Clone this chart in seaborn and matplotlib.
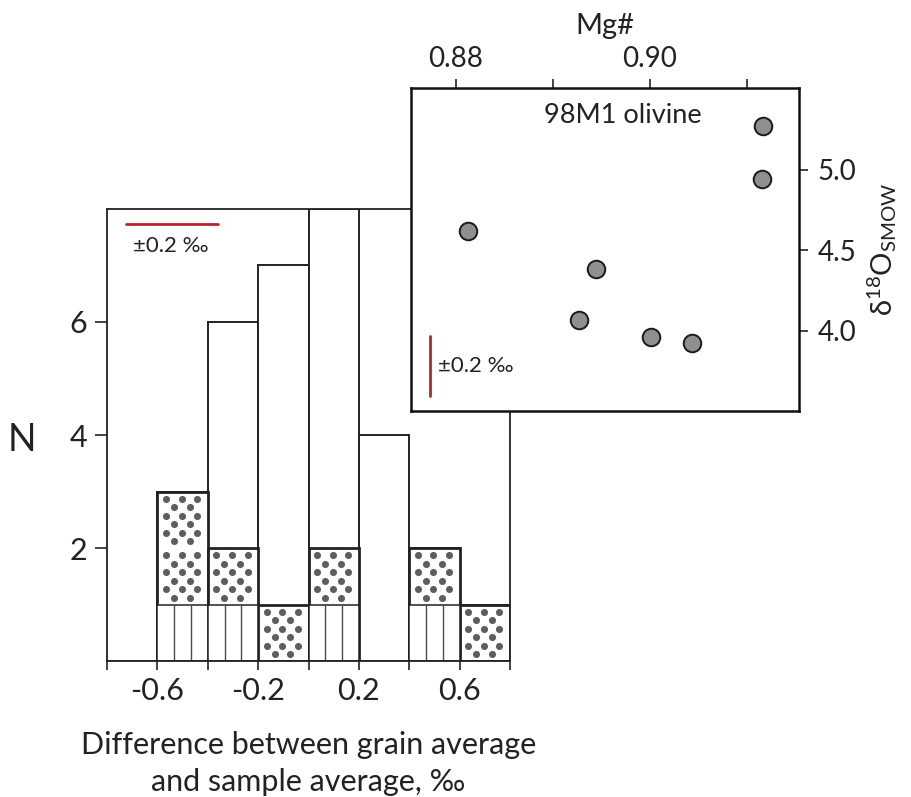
import numpy as np
import matplotlib
matplotlib.use("Agg")
import matplotlib.pyplot as plt
import seaborn as sns

# Histogram: grain average minus sample average (per mil), split by grain group
bin_edges = [-0.8, -0.6, -0.4, -0.2, 0.0, 0.2, 0.4, 0.6, 0.8]
bin_centers = [-0.7, -0.5, -0.3, -0.1, 0.1, 0.3, 0.5, 0.7]
n_lined = [0, 1, 1, 0, 1, 0, 1, 0]     # bottom group, vertical-line fill
n_dotted = [0, 2, 1, 1, 1, 0, 1, 1]    # middle group, dot fill
n_open = [0, 0, 4, 6, 6, 4, 0, 0]      # remaining grains, open bars
x_tick_labels = ["", "-0.6", "", "-0.2", "", "0.2", "", "0.6", ""]
y_ticks = [2, 4, 6]

# Inset: 98M1 olivine, Mg# against d18O
mg_number = [0.91168, 0.91152, 0.88127, 0.89443, 0.89271, 0.90007, 0.90433]
d18o = [5.273, 4.942, 4.623, 4.385, 4.068, 3.965, 3.924]
mg_ticks = [0.88, 0.89, 0.90, 0.91]
mg_tick_labels = ["0.88", "", "0.90", ""]
d18o_ticks = [4.0, 4.5, 5.0]

# Analytical uncertainty bars (+/-0.2 per mil)
hist_bar_x = [-0.726, -0.358]
hist_bar_y = 7.73
inset_bar_x = 0.87732
inset_bar_y = [3.596, 3.969]

EDGE = "#222222"
TEXT = "#222222"
RED = "#b3262c"
DOT = "#5e5e5e"

sns.set_theme(style="ticks")
plt.rcParams["font.family"] = ["Lato", "DejaVu Sans"]
plt.rcParams["mathtext.fontset"] = "custom"
plt.rcParams["mathtext.rm"] = "Lato"
plt.rcParams["mathtext.it"] = "Lato:italic"
plt.rcParams["mathtext.default"] = "regular"

fig = plt.figure(figsize=(9.11, 7.97), dpi=100)
ax = fig.add_axes([0.1175, 0.1706, 0.4424, 0.5672])

lined = np.array(n_lined)
dotted_top = lined + np.array(n_dotted)
total = dotted_top + np.array(n_open)
centers = np.array(bin_centers)

# stacked layers: full bars, then lined+dotted, then lined only
for heights, lw in [(total, 1.4), (dotted_top, 2.0), (lined, 1.1)]:
    sns.histplot(x=centers, weights=heights, bins=bin_edges, ax=ax,
                 color="white", edgecolor=EDGE, linewidth=lw, alpha=1)

edges = np.array(bin_edges)
width = edges[1] - edges[0]

# vertical-line fill of the bottom group
vx, vtop = [], []
for left, n in zip(edges[:-1], lined):
    if n > 0:
        for f in (1 / 3, 2 / 3):
            vx.append(left + f * width)
            vtop.append(n)
ax.vlines(vx, 0, vtop, color="#4a4a4a", linewidth=1.0, zorder=2)

# dot fill of the middle group: six staggered rows per count
dx, dy = [], []
for left, base, n in zip(edges[:-1], lined, n_dotted):
    for k in range(n):
        for r in range(6):
            y = base + k + 0.12 + 0.15 * r
            cols = (0.17, 0.48, 0.79) if r % 2 else (0.33, 0.64)
            for c in cols:
                dx.append(left + c * width)
                dy.append(y)
ax.scatter(dx, dy, s=26, color=DOT, linewidths=0, zorder=3)

ax.plot(hist_bar_x, [hist_bar_y, hist_bar_y], color=RED, linewidth=2)
ax.text(hist_bar_x[0] + 0.028, hist_bar_y - 0.38, "±0.2 ‰", fontsize=16,
        va="center", ha="left", color=TEXT)

ax.set_xlim(bin_edges[0], bin_edges[-1])
ax.set_ylim(0, 8)
ax.set_xticks(bin_edges)
ax.set_xticklabels(x_tick_labels)
ax.set_yticks(y_ticks)
ax.set_yticklabels([str(t) for t in y_ticks])
ax.set_ylabel("")
ax.set_xlabel("Difference between grain average\nand sample average, ‰",
              fontsize=22, linespacing=1.36, labelpad=19, color=TEXT)
ax.tick_params(axis="x", bottom=True, direction="out", length=6.5, width=1.2,
               color=EDGE, labelsize=22, pad=5, labelcolor=TEXT)
ax.tick_params(axis="y", left=True, direction="out", length=8.5, width=1.2,
               color=EDGE, labelsize=22, pad=6, labelcolor=TEXT)
for sp in ax.spines.values():
    sp.set_visible(True)
    sp.set_color(EDGE)
    sp.set_linewidth(1.3)

fig.text(0.0241, 0.448, "N", fontsize=27, ha="center", va="center",
         color=TEXT)

# inset scatter
ax_in = fig.add_axes([0.4512, 0.4843, 0.4259, 0.4053])
ax_in.set_zorder(5)
ax_in.set_facecolor("white")
sns.scatterplot(x=mg_number, y=d18o, ax=ax_in, s=160, color="#8f8f8f",
                edgecolor="#1a1a1a", linewidth=1.4, zorder=3)
ax_in.set_xlim(0.87536, 0.91536)
ax_in.set_ylim(3.503, 5.509)
ax_in.xaxis.tick_top()
ax_in.xaxis.set_label_position("top")
ax_in.yaxis.tick_right()
ax_in.yaxis.set_label_position("right")
ax_in.set_xticks(mg_ticks)
ax_in.set_xticklabels(mg_tick_labels)
ax_in.set_yticks(d18o_ticks)
ax_in.set_yticklabels([f"{t:.1f}" for t in d18o_ticks])
ax_in.tick_params(axis="x", top=True, bottom=False, direction="out",
                  length=6.5, width=1.2, color=EDGE, labelsize=20, pad=5,
                  labelcolor=TEXT)
ax_in.tick_params(axis="y", right=True, left=False, direction="out",
                  length=6.5, width=1.2, color=EDGE, labelsize=20, pad=7,
                  labelcolor=TEXT)
ax_in.set_xlabel("Mg#", fontsize=21, labelpad=9, color=TEXT)
ax_in.set_ylabel(r"$\delta^{18}O_{SMOW}$", fontsize=21, labelpad=6,
                 color=TEXT)
for sp in ax_in.spines.values():
    sp.set_visible(True)
    sp.set_color("#111111")
    sp.set_linewidth(1.8)

ax_in.plot([inset_bar_x, inset_bar_x], inset_bar_y, color=RED, linewidth=2)
ax_in.text(inset_bar_x + 0.0008, sum(inset_bar_y) / 2, "±0.2 ‰",
           fontsize=16, va="center", ha="left", color=TEXT)
ax_in.text(0.546, 0.916, "98M1 olivine", transform=ax_in.transAxes,
           fontsize=19.5, ha="center", va="center", color=TEXT)

fig.savefig("out.png", dpi=100, facecolor="white")
